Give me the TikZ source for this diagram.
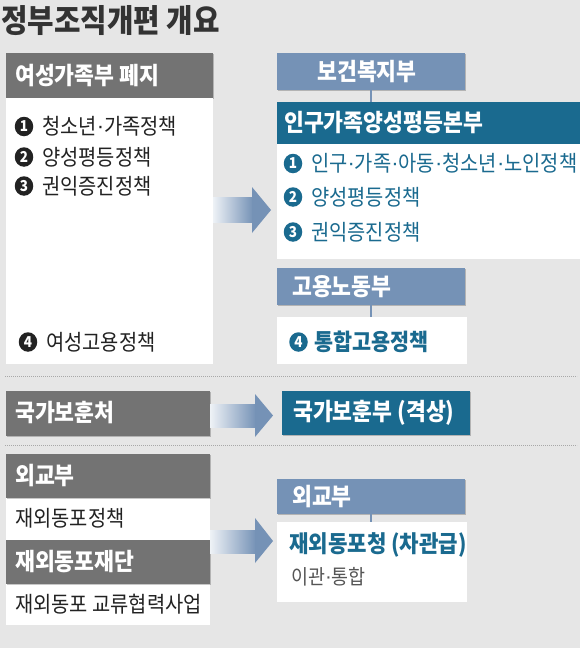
\documentclass[tikz,border=0pt]{standalone}
\usepackage{fontspec}
\setmainfont{Noto Sans CJK KR}[FakeStretch=0.9]
\newfontfamily\latin{Liberation Sans}
\usetikzlibrary{calc,shadows,shapes.geometric}
\definecolor{bg}{HTML}{E6E6E6}
\definecolor{grayhd}{HTML}{737373}
\definecolor{steel}{HTML}{7592B6}
\definecolor{navy}{HTML}{1A6A8F}
\definecolor{ink}{HTML}{222222}
\definecolor{titlec}{HTML}{333333}
\definecolor{subc}{HTML}{555555}
\definecolor{dotc}{HTML}{A8A8A8}
\newcommand{\md}{\raisebox{1.3pt}{\latin ·}}
\begin{document}
\begin{tikzpicture}[x=1pt,y=-1pt,
  blk/.style={inner sep=0pt, outer sep=0pt, anchor=north west, draw=none},
  shd/.style={drop shadow={shadow xshift=0.8pt, shadow yshift=-1pt, opacity=0.22, fill=black}},
  graybox/.style={blk, shd, fill=grayhd},
  steelbox/.style={blk, shd, fill=steel},
  navybox/.style={blk, shd, fill=navy},
  whitebox/.style={blk, fill=white},
  hdtext/.style={inner sep=0pt, anchor=west, text=white, font=\bfseries\fontsize{24}{26}\selectfont},
  itemtext/.style={inner sep=0pt, anchor=west, text=ink, font=\fontsize{22}{24}\selectfont},
  blueitem/.style={itemtext, text=navy},
  bul/.style={ellipse, inner sep=0pt, minimum width=18.5pt, minimum height=19.5pt, text=white, font=\bfseries\fontsize{15}{15}\selectfont},
  blackbul/.style={bul, fill=ink},
  navybul/.style={bul, fill=navy},
  conn/.style={draw=steel, line width=2.2pt},
  sep/.style={draw=dotc, line width=0.9pt, dash pattern=on 0.9pt off 1.1pt},
  arrowhead/.style={fill=steel},
]
\useasboundingbox (0,0) rectangle (580,648);
\fill[bg] (0,0) rectangle (580,648);

% title
\node[inner sep=0pt, anchor=west, text=titlec, font=\bfseries\fontsize{32}{34}\selectfont] (title) at (1,21) {정부조직개편 개요};

% ---------- section 1 left ----------
\node[graybox, minimum width=207pt, minimum height=45pt] (h1) at (6,53) {};
\node[whitebox, minimum width=207pt, minimum height=266pt] (b1) at (6,98) {};
\node[hdtext] (th1) at (15,75.5) {여성가족부 폐지};
\node[blackbul] (lb1) at (24,126.5) {1};
\node[blackbul] (lb2) at (24,157) {2};
\node[blackbul] (lb3) at (24,186) {3};
\node[blackbul] (lb4) at (28,342) {4};
\node[itemtext] (l1) at (42,126.5) {청소년\md 가족정책};
\node[itemtext] (l2) at (42,157) {양성평등정책};
\node[itemtext] (l3) at (42,186) {권익증진정책};
\node[itemtext] (l4) at (46,342) {여성고용정책};

% arrow 1
\shade[left color=steel!12!white, right color=steel] (213,197) rectangle (253,222);
\fill[arrowhead] (252,187) -- (271,210) -- (252,233) -- cycle;

% ---------- section 1 right ----------
\node[steelbox, minimum width=188pt, minimum height=37pt] (r1h) at (277,53) {};
\node[navybox, minimum width=303pt, minimum height=42pt] (r2h) at (277,102) {};
\node[whitebox, minimum width=303pt, minimum height=115pt] (r2b) at (277,144) {};
\draw[conn] (r1h.south) -- (r1h.south |- r2h.north);
\node[hdtext, anchor=center] (tr1) at (367,72) {보건복지부};
\node[hdtext] (tr2) at (284,123) {인구가족양성평등본부};
\node[navybul] (rb1) at (293,163.5) {1};
\node[navybul] (rb2) at (293,197) {2};
\node[navybul] (rb3) at (293,232) {3};
\node[blueitem] (r1) at (311,163.5) {인구\md 가족\md 아동\md 청소년\md 노인정책};
\node[blueitem] (r2) at (311,197) {양성평등정책};
\node[blueitem] (r3) at (311,232) {권익증진정책};

\node[steelbox, minimum width=188pt, minimum height=37pt] (r3h) at (277,268) {};
\node[whitebox, minimum width=190pt, minimum height=47pt] (r3b) at (277,317) {};
\draw[conn] (r3h.south) -- (r3h.south |- r3b.north);
\node[hdtext] (tr3) at (292,286.5) {고용노동부};
\node[navybul] (rb4) at (298.5,342) {4};
\node[blueitem, font=\bfseries\fontsize{23}{24}\selectfont] (r4) at (314,342) {통합고용정책};

\path[sep] (5,376) -- (577,376);

% ---------- section 2 ----------
\node[graybox, minimum width=204pt, minimum height=45pt] (g2) at (6,391) {};
\node[hdtext] (tg2) at (15,413) {국가보훈처};
\shade[left color=steel!12!white, right color=steel] (210,404) rectangle (256,427);
\fill[arrowhead] (255,394) -- (273,415.5) -- (255,437) -- cycle;
\node[navybox, minimum width=188pt, minimum height=44pt] (n2) at (282,391) {};
\node[hdtext] (tn2) at (293,413) {국가보훈부 (격상)};

\path[sep] (5,445) -- (577,445);

% ---------- section 3 ----------
\node[whitebox, minimum width=204pt, minimum height=42pt] (g3b) at (6,498) {};
\node[whitebox, minimum width=204pt, minimum height=41pt] (g4b) at (6,584) {};
\node[graybox, minimum width=204pt, minimum height=44pt] (g3h) at (6,454) {};
\node[graybox, minimum width=204pt, minimum height=44pt] (g4h) at (6,540) {};
\node[hdtext] (tg3h) at (15,476) {외교부};
\node[itemtext] (tg3b) at (15,518) {재외동포정책};
\node[hdtext] (tg4h) at (15,562) {재외동포재단};
\node[itemtext] (tg4b) at (15,604) {재외동포 교류협력사업};

\shade[left color=steel!12!white, right color=steel] (210,530) rectangle (256,553);
\fill[arrowhead] (255,518) -- (273,541) -- (255,563) -- cycle;

\node[steelbox, minimum width=188pt, minimum height=35pt] (r4h) at (277,479) {};
\node[whitebox, minimum width=190pt, minimum height=80pt] (r4b) at (277,522) {};
\draw[conn] (r4h.south) -- (r4h.south |- r4b.north);
\node[hdtext] (tr4h) at (292,496.5) {외교부};
\node[blueitem, font=\bfseries\fontsize{23.5}{25}\selectfont] (tr4a) at (289,545) {재외동포청 (차관급)};
\node[itemtext, text=subc, font=\fontsize{20.5}{22}\selectfont] (tr4b) at (291,577) {이관\md 통합};
\end{tikzpicture}
\end{document}
